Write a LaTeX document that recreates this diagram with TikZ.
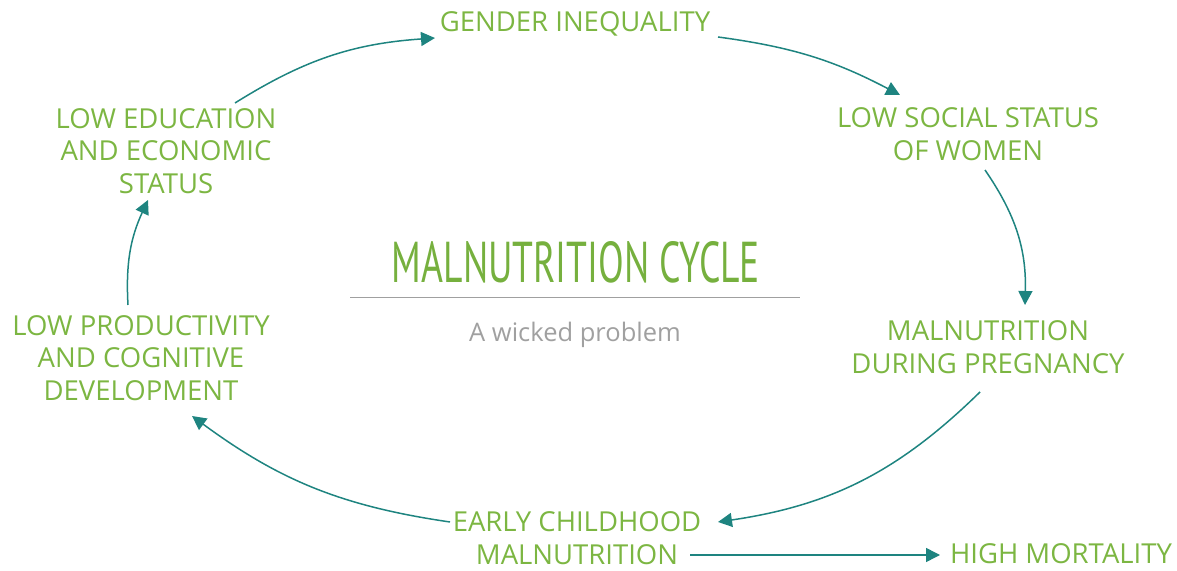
\documentclass[tikz,border=0pt]{standalone}
\usepackage{fontspec}
\setmainfont{Open Sans}
\newfontfamily\titlefont{PT Sans}
\usetikzlibrary{arrows.meta}
\definecolor{leafgreen}{RGB}{124,182,66}
\definecolor{titlegreen}{RGB}{118,176,62}
\definecolor{teal}{RGB}{30,132,128}
\definecolor{subgray}{RGB}{160,160,160}

\begin{document}
\begin{tikzpicture}[x=1pt,y=1pt]
  % styles
  \tikzset{step label/.style = {text=leafgreen, align=center, inner sep=2pt,
      font=\fontsize{27.5}{32.5}\selectfont}}
  \tikzset{flow/.style = {draw=teal, line width=1.5pt, bend left=#1,
      -{Triangle[length=14pt, width=14pt]}}}
  \tikzset{flow/.default = 15}

  \useasboundingbox (0,0) rectangle (1177,570);

  % title
  \node (title) at (576,308) {\resizebox{368pt}{41pt}{\color{titlegreen}\titlefont MALNUTRITION CYCLE}};
  \coordinate (ruleL) at (350,273);
  \coordinate (ruleR) at (800,273);
  \draw[subgray, line width=0.8pt] (ruleL) -- (ruleR);
  \node[text=subgray, font=\fontsize{25.5}{30}\selectfont] (sub) at (575,235) {A wicked problem};

  % steps of the cycle
  \node[step label] (gender) at (575,546) {GENDER INEQUALITY};
  \node[step label] (social) at (968,436) {LOW SOCIAL STATUS\\OF WOMEN};
  \node[step label] (preg)   at (988,223) {MALNUTRITION\\DURING PREGNANCY};
  \node[step label] (early)  at (577,32)  {EARLY CHILDHOOD\\MALNUTRITION};
  \node[step label] (mort)   at (1061,16) {HIGH MORTALITY};
  \node[step label] (prod)   at (141,212) {LOW PRODUCTIVITY\\AND COGNITIVE\\DEVELOPMENT};
  \node[step label] (edu)    at (166,419) {LOW EDUCATION\\AND ECONOMIC\\STATUS};

  % arrows
  \draw[flow=14] ([shift={(69,48)}]edu.center) to ([shift={(-140,-14)}]gender.center);
  \draw[flow=10] ([shift={(143,-13)}]gender.center) to ([shift={(-68,39)}]social.center);
  \draw[flow=18] ([shift={(17,-36)}]social.center) to ([shift={(37,42)}]preg.center);
  \draw[flow=18] ([shift={(-8,-45)}]preg.center) to ([shift={(141,16)}]early.center);
  \draw[flow=14] ([shift={(-127,16)}]early.center) to ([shift={(51,-58)}]prod.center);
  \draw[flow=14] ([shift={(-13,53)}]prod.center) to ([shift={(-18,-49)}]edu.center);
  \draw[flow=0] ([shift={(113,-17)}]early.center) -- ([shift={(-121,-1)}]mort.center);
\end{tikzpicture}
\end{document}
